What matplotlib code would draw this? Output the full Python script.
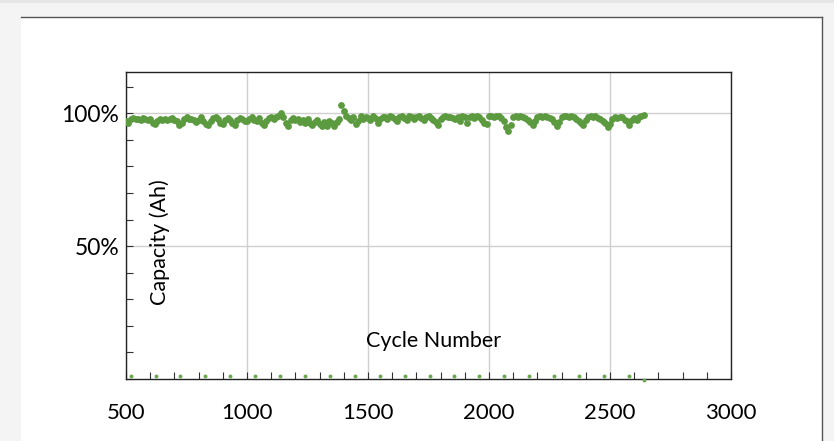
import matplotlib
matplotlib.use("Agg")
import matplotlib.pyplot as plt
from matplotlib.ticker import MultipleLocator, FixedLocator
from matplotlib.patches import Rectangle
from matplotlib.lines import Line2D

plt.rcParams['font.family'] = ['Lato', 'DejaVu Sans']

# ---- data ----
cycle_start = 500
cycle_step = 10
capacity_pct = [
    97.0, 96.2, 97.8, 98.2, 97.9, 98.0, 97.6, 98.1, 97.7, 97.3,
    97.8, 96.4, 95.8, 97.2, 97.9, 97.6, 98.0, 97.5, 97.9, 98.1,
    97.6, 97.2, 95.6, 96.3, 97.8, 98.4, 97.9, 98.0, 97.3, 96.8,
    97.5, 98.6, 97.2, 96.1, 95.5, 97.0, 98.2, 98.6, 97.7, 96.4,
    95.8, 97.3, 98.3, 97.6, 96.5, 95.7, 97.4, 98.1, 97.9, 97.2,
    97.0, 97.8, 98.4, 97.6, 97.2, 98.3, 96.4, 95.7, 97.1, 98.2,
    98.5, 97.8, 98.6, 99.1, 100.2, 98.4, 96.2, 95.1, 97.6, 98.3,
    97.4, 97.9, 96.8, 97.3, 96.2, 97.8, 96.5, 95.6, 96.7, 97.5,
    96.0, 95.3, 96.6, 95.1, 97.2, 96.3, 95.0, 96.8, 97.9, 103.0,
    100.8, 99.0, 98.1, 97.4, 98.5, 95.8, 97.2, 98.8, 98.0, 98.6,
    98.2, 97.6, 98.9, 98.3, 96.5, 97.9, 98.7, 98.4, 97.8, 98.9,
    98.5, 98.0, 97.2, 98.6, 98.9, 98.2, 97.4, 98.8, 98.4, 97.9,
    98.7, 98.9, 98.3, 97.6, 98.4, 98.8, 98.1, 97.3, 96.8, 95.5,
    97.9, 98.6, 98.9, 98.4, 98.7, 98.1, 97.8, 98.5, 96.9, 98.8,
    98.6, 96.2, 98.7, 98.9, 98.3, 98.8, 98.5, 97.4, 96.4, 95.9,
    98.9, 99.0, 98.6, 98.8, 99.1, 98.2, 97.0, 94.8, 93.2, 95.6,
    98.7, 98.9, 98.4, 99.0, 98.6, 98.2, 97.5, 96.8, 95.4, 96.9,
    98.5, 98.9, 98.6, 99.0, 98.7, 98.3, 97.8, 96.7, 95.2, 96.6,
    98.4, 98.8, 99.1, 98.7, 98.9, 98.5, 98.0, 97.2, 96.2, 95.5,
    97.6, 98.7, 99.0, 98.6, 98.9, 98.3, 97.9, 97.1, 96.3, 94.8,
    95.9, 97.8, 98.6, 98.2, 98.7, 98.4, 97.5, 96.9, 95.6, 97.3,
    98.1, 97.4, 98.5, 98.9, 99.3,
]
cycles = [cycle_start + i * cycle_step for i in range(len(capacity_pct))]

zero_cycles = [519, 623, 723, 826, 929, 1033, 1136, 1238, 1341, 1446, 1550,
               1653, 1756, 1857, 1960, 2063, 2165, 2268, 2372, 2475, 2580, 2641]
zero_values = [1.2] * 21 + [-0.2]

x_ticks = [500, 1000, 1500, 2000, 2500, 3000]
x_tick_labels = ['500', '1000', '1500', '2000', '2500', '3000']
y_ticks = [50, 100]
y_tick_labels = ['50%', '100%']

# ---- figure ----
W, H = 836, 441
fig = plt.figure(figsize=(W / 100, H / 100), dpi=100)
fig.patch.set_facecolor('#f4f4f4')

# white panel with top/right border (drawn behind the axes)
fig.patches.append(Rectangle((0, 1 - 3 / H), 1, 3 / H, transform=fig.transFigure,
                             facecolor='#e6e6e6', edgecolor='none', zorder=-5))
fig.patches.append(Rectangle((834 / W, 0), 2 / W, 1, transform=fig.transFigure,
                             facecolor='#ffffff', edgecolor='none', zorder=-5))
fig.patches.append(Rectangle((21 / W, 0), (822 - 21) / W, (H - 17) / H,
                             transform=fig.transFigure, facecolor='white',
                             edgecolor='none', zorder=-5))
fig.lines.append(Line2D([21 / W, 822 / W], [1 - 17 / H, 1 - 17 / H],
                        transform=fig.transFigure, color='#555555', lw=1.0,
                        zorder=-4))
fig.lines.append(Line2D([822 / W, 822 / W], [0, 1 - 17 / H],
                        transform=fig.transFigure, color='#555555', lw=1.0,
                        zorder=-4))

left, right = 126 / W, 731 / W
bottom, top = 1 - 379 / H, 1 - 72 / H
ax = fig.add_axes([left, bottom, right - left, top - bottom])
ax.set_zorder(2)
ax.set_facecolor('white')

ax.scatter(cycles, capacity_pct, s=24, color='#5c9a40', linewidths=0, zorder=3)
ax.scatter(zero_cycles, zero_values, s=8, color='#6aa84f', linewidths=0,
           zorder=3, clip_on=False)

ax.set_xlim(500, 3000)
ax.set_ylim(0, 115.5)

ax.xaxis.set_major_locator(FixedLocator(x_ticks))
ax.set_xticklabels(x_tick_labels)
ax.xaxis.set_minor_locator(MultipleLocator(100))
ax.yaxis.set_major_locator(FixedLocator(y_ticks))
ax.set_yticklabels(y_tick_labels)
ax.yaxis.set_minor_locator(MultipleLocator(10))

ax.tick_params(axis='both', which='both', direction='in', length=5,
               width=0.8, color='#333333')
ax.tick_params(axis='x', which='major', labelsize=16, pad=17)
ax.tick_params(axis='y', which='major', labelsize=16.5, pad=5)

ax.grid(True, which='major', color='#d0d0d0', lw=1.0, zorder=0)
ax.set_axisbelow(True)
for s in ax.spines.values():
    s.set_color('#222222')
    s.set_linewidth(1.0)

fig.text(434 / W, 1 - 341 / H, 'Cycle Number', ha='center', va='center',
         fontsize=15.5, zorder=5)
fig.text(160 / W, 1 - 242 / H, 'Capacity (Ah)', ha='center', va='center',
         rotation=90, fontsize=15.5, zorder=5)

fig.savefig('out.png', dpi=100, facecolor=fig.get_facecolor())
